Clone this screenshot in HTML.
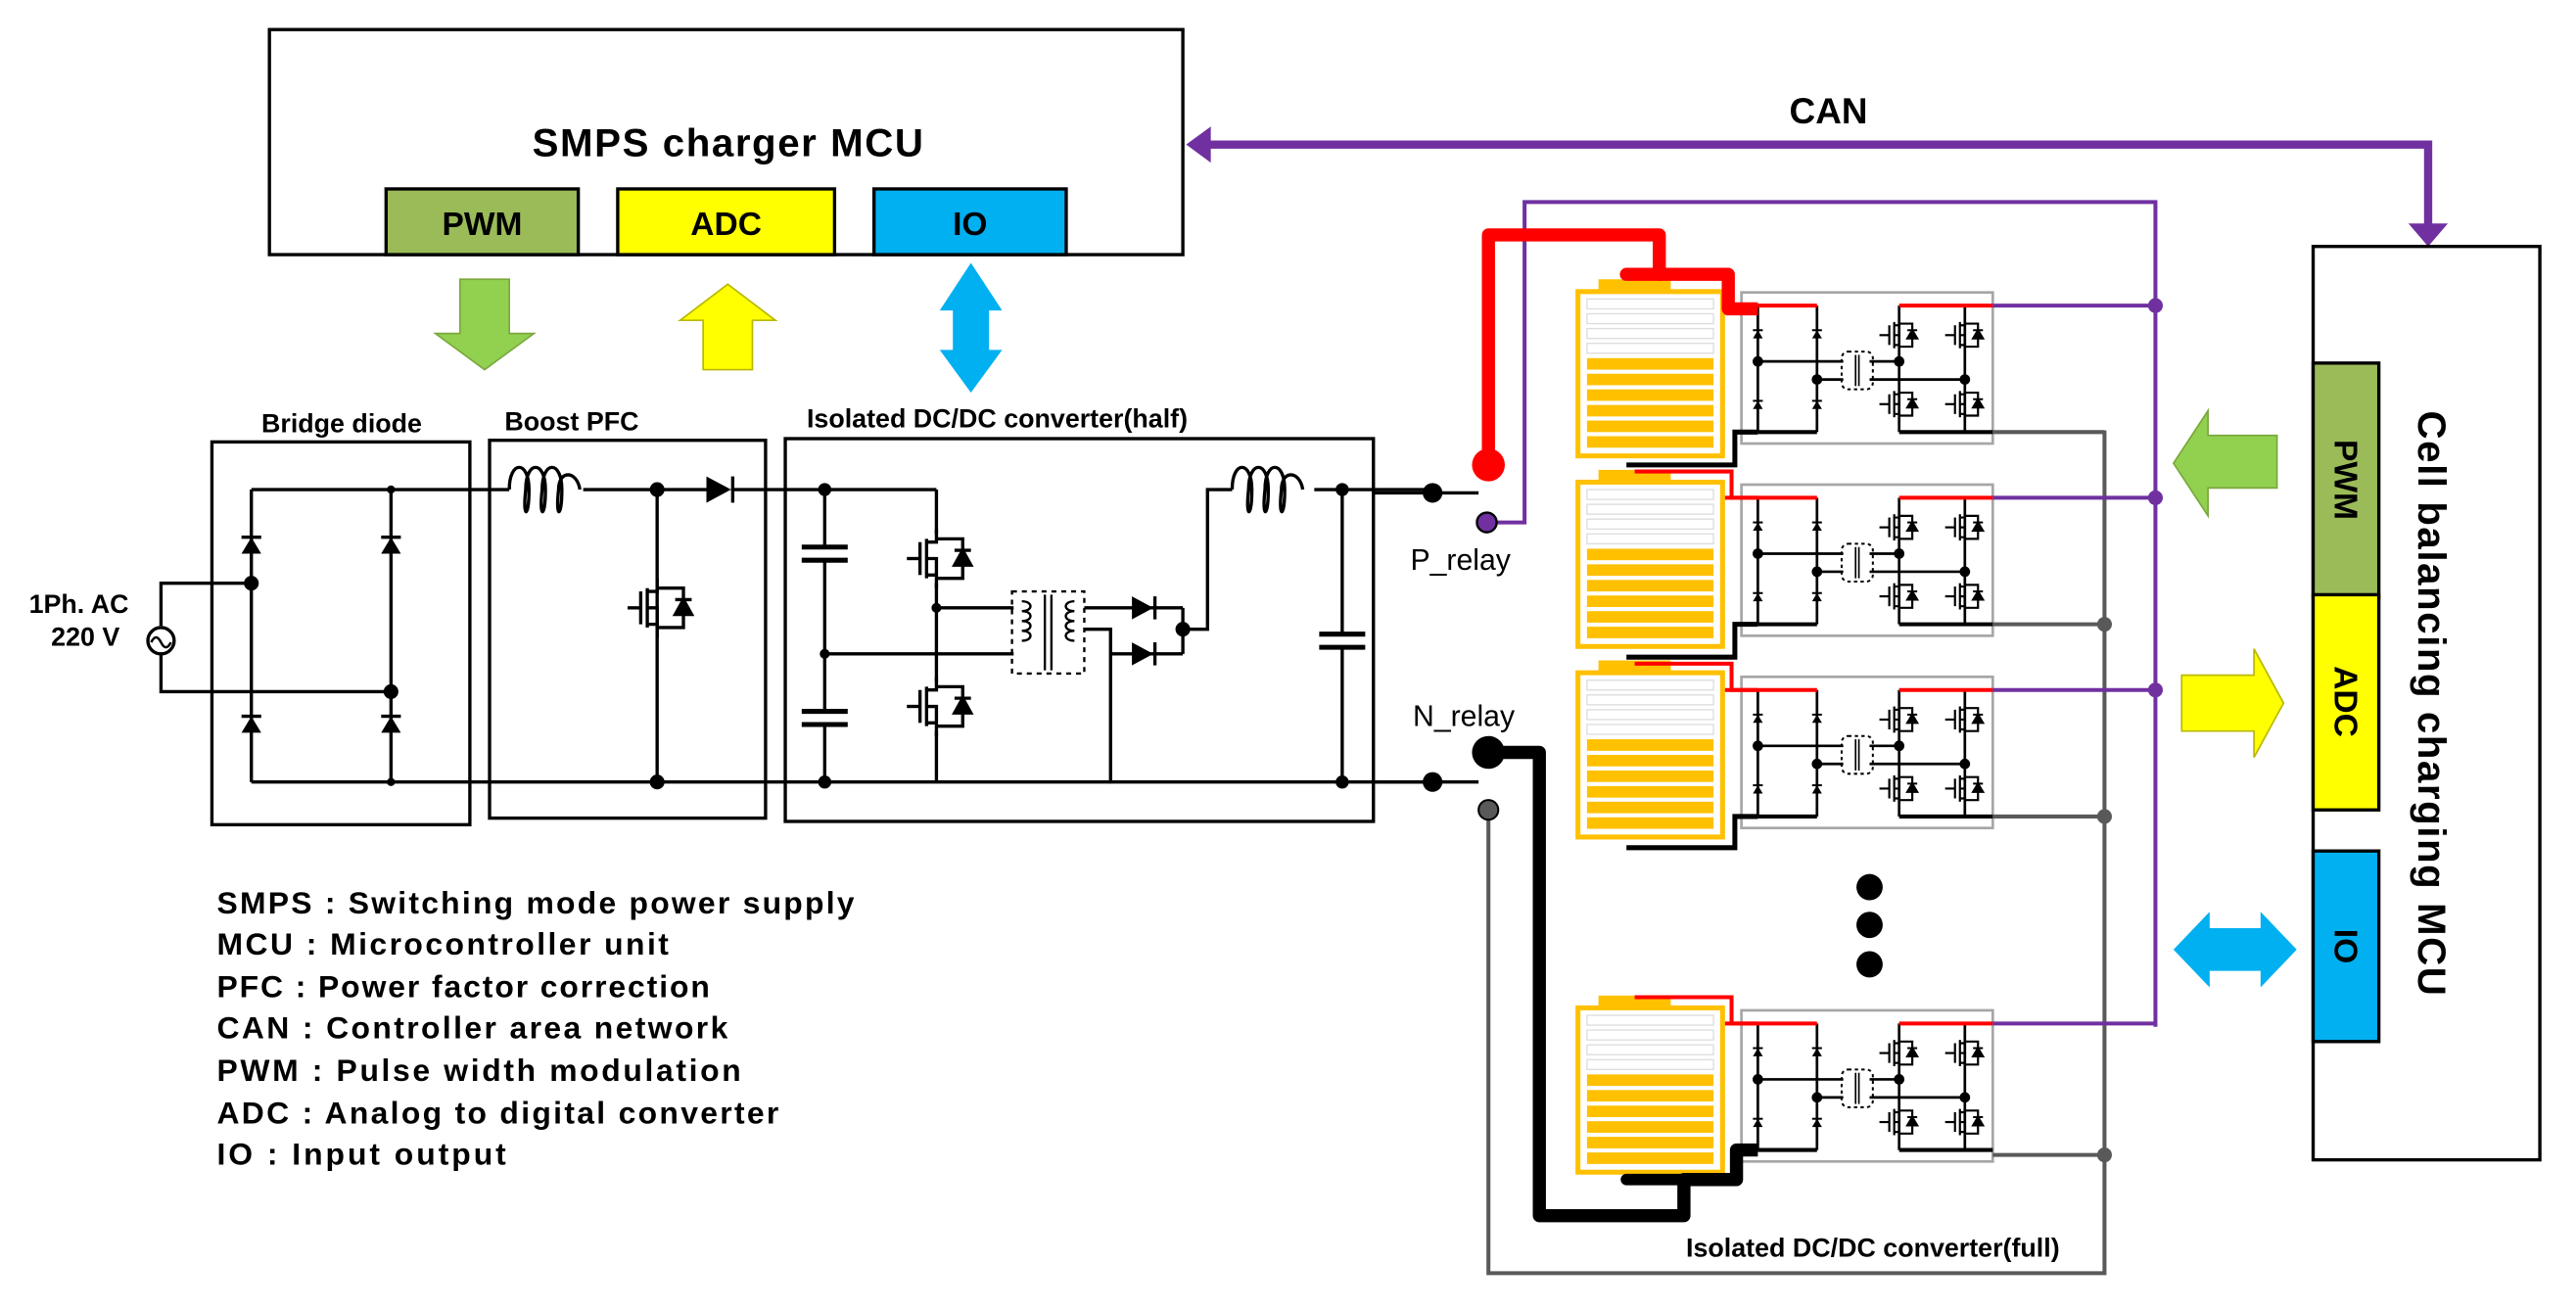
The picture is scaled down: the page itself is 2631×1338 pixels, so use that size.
<!DOCTYPE html>
<html><head><meta charset="utf-8"><style>html,body{margin:0;padding:0;background:#fff}svg{display:block}</style></head>
<body>
<svg width="2631" height="1338" viewBox="0 0 1568 797.4" preserveAspectRatio="none" xmlns="http://www.w3.org/2000/svg" font-family="Liberation Sans, sans-serif">
<defs>
<g id="dio"><path d="M-6,4 L6,4 L0,-6 Z" fill="#000"/><line x1="-6" y1="-6" x2="6" y2="-6" stroke="#000" stroke-width="2"/></g>
<g id="sdio"><path d="M-3,2 L3,2 L0,-3 Z" fill="#000"/><line x1="-3" y1="-3" x2="3" y2="-3" stroke="#000" stroke-width="1.2"/></g>
<g id="mdio"><path d="M-5,4 L5,4 L0,-5 Z" fill="#000"/><line x1="-5" y1="-5" x2="5" y2="-5" stroke="#000" stroke-width="2"/></g>
<g id="mos" fill="none" stroke="#000" stroke-width="2">
<line x1="-18" y1="0" x2="-10" y2="0"/><line x1="-10" y1="-10" x2="-10" y2="10"/>
<line x1="-6" y1="-12" x2="-6" y2="12"/><path d="M0,-18 L0,-10 L-6,-10 M-6,10 L0,10 L0,18 M-6,0 L0,0 L0,10"/>
<path d="M0,-12 L16,-12 L16,12 L0,12"/><use href="#mdio" x="16" y="0"/>
</g>
<g id="smos" fill="none" stroke="#000" stroke-width="1.3">
<line x1="-12" y1="0" x2="-6" y2="0"/><line x1="-6" y1="-6" x2="-6" y2="6"/>
<line x1="-3" y1="-8" x2="-3" y2="8"/><path d="M0,-12 L0,-6 L-3,-6 M-3,6 L0,6 L0,12 M-3,0 L0,0 L0,6 M0,-7 L8,-7 L8,7 L0,7"/>
<use href="#sdio" x="8" y="0"/>
</g>
<g id="conv">
<rect x="0" y="0" width="153" height="92" fill="none" stroke="#a6a6a6" stroke-width="1.6"/>
<g stroke="#000" stroke-width="1.6" fill="none">
<line x1="10" y1="8" x2="10" y2="85"/><line x1="46" y1="8" x2="46" y2="85"/>
<line x1="10" y1="42" x2="62" y2="42"/><line x1="46" y1="53" x2="62" y2="53"/>
<line x1="78" y1="42" x2="96" y2="42"/><line x1="78" y1="53" x2="136" y2="53"/>
<line x1="96" y1="8" x2="96" y2="85"/><line x1="136" y1="8" x2="136" y2="85"/>
</g>
<path d="M-10,8 L46,8" stroke="#f00" stroke-width="2.4"/>
<path d="M96,8 L153,8" stroke="#f00" stroke-width="2.4"/>
<path d="M10,85 L46,85 M96,85 L153,85" stroke="#000" stroke-width="2.4"/>
<use href="#sdio" x="10" y="26"/><use href="#sdio" x="46" y="26"/><use href="#sdio" x="10" y="69"/><use href="#sdio" x="46" y="69"/>
<circle cx="10" cy="42" r="3.2"/><circle cx="46" cy="53" r="3.2"/><circle cx="96" cy="42" r="3.2"/><circle cx="136" cy="53" r="3.2"/>
<rect x="61" y="36" width="19" height="23" rx="4" fill="none" stroke="#000" stroke-width="1.2" stroke-dasharray="2,2"/>
<line x1="69.5" y1="38" x2="69.5" y2="57" stroke="#000" stroke-width="1"/><line x1="71.5" y1="38" x2="71.5" y2="57" stroke="#000" stroke-width="1"/>
<use href="#smos" x="96" y="26"/><use href="#smos" x="136" y="26"/><use href="#smos" x="96" y="68"/><use href="#smos" x="136" y="68"/>
</g>
<g id="bat">
<rect x="14" y="-6" width="44" height="8" fill="#ffc000"/>
<rect x="1.5" y="1.5" width="88" height="100" fill="#fff" stroke="#ffc000" stroke-width="3"/>
<g fill="#fff" stroke="#ddd" stroke-width="0.8">
<rect x="7" y="6" width="77" height="6"/><rect x="7" y="15" width="77" height="6"/><rect x="7" y="24" width="77" height="6"/><rect x="7" y="33" width="77" height="6"/></g>
<g fill="#ffc000"><rect x="7" y="42" width="77" height="7"/><rect x="7" y="51.5" width="77" height="7"/><rect x="7" y="61" width="77" height="7"/><rect x="7" y="70.5" width="77" height="7"/><rect x="7" y="80" width="77" height="7"/><rect x="7" y="89.5" width="77" height="7"/></g>
</g>
</defs>

<rect x="164" y="18" width="556" height="137" fill="#fff" stroke="#000" stroke-width="2"/>
<text x="443" y="95" font-size="24" font-weight="bold" text-anchor="middle" textLength="238">SMPS charger MCU</text>
<rect x="235" y="115" width="117" height="40" fill="#9bbb59" stroke="#000" stroke-width="2"/>
<rect x="376" y="115" width="132" height="40" fill="#ffff00" stroke="#000" stroke-width="2"/>
<rect x="532" y="115" width="117" height="40" fill="#00b0f0" stroke="#000" stroke-width="2"/>
<text x="293.5" y="143" font-size="20" font-weight="bold" text-anchor="middle">PWM</text>
<text x="442" y="143" font-size="20" font-weight="bold" text-anchor="middle">ADC</text>
<text x="590.5" y="143" font-size="20" font-weight="bold" text-anchor="middle">IO</text>
<path d="M280,170 L310,170 L310,203 L325,203 L295,225 L265,203 L280,203 Z" fill="#92d050" stroke="#7aa83c" stroke-width="1"/>
<path d="M428,225 L458,225 L458,195 L472,195 L443,173 L414,195 L428,195 Z" fill="#ffff00" stroke="#b8b800" stroke-width="1"/>
<path d="M591,160 L610,189 L602,189 L602,213 L610,213 L591,239 L572,213 L580,213 L580,189 L572,189 Z" fill="#00b0f0"/>
<path d="M735,88 L1478,88 L1478,138" fill="none" stroke="#7030a0" stroke-width="5"/>
<path d="M722,88 L737,77 L737,99 Z" fill="#7030a0"/>
<path d="M1466,136 L1490,136 L1478,150 Z" fill="#7030a0"/>
<text x="1113" y="75" font-size="22" font-weight="bold" text-anchor="middle">CAN</text>

<text x="208" y="263" font-size="16" font-weight="bold" text-anchor="middle">Bridge diode</text>
<text x="348" y="262" font-size="16" font-weight="bold" text-anchor="middle">Boost PFC</text>
<text x="607" y="260" font-size="16" font-weight="bold" text-anchor="middle">Isolated DC/DC converter(half)</text>
<g fill="none" stroke="#000" stroke-width="2">
<rect x="129" y="269" width="157" height="233"/>
<rect x="298" y="268" width="168" height="230"/>
<rect x="478" y="267" width="358" height="233"/>
</g>
<text x="48" y="373" font-size="16" font-weight="bold" text-anchor="middle">1Ph. AC</text>
<text x="52" y="393" font-size="16" font-weight="bold" text-anchor="middle">220 V</text>
<g fill="none" stroke="#000" stroke-width="2">
<path d="M98,381 L98,355 L153,355 M98,398 L98,421 L238,421"/>
<circle cx="98" cy="390" r="8"/>
<path d="M92,391 q3,-6 6,0 q3,6 6,0" stroke-width="1.5"/>
<path d="M153,298 L153,476 M238,298 L238,476 M153,298 L310,298 M153,476 L676,476"/>
<path d="M355,298 L430,298 M400,298 L400,476 M445,298 L570,298"/>
<path d="M310,298 c0,-18 12,-18 12,0 c0,18 -4,18 -2,0 c0,-18 12,-18 12,0 c0,18 -4,18 -2,0 c0,-18 12,-18 12,0 c0,18 -4,18 -2,0 c0,-12 11,-12 13,0" stroke-width="2"/>
<path d="M502,298 L502,332 M502,342 L502,432 M502,442 L502,476"/>
<path d="M488,333 L516,333 M488,341 L516,341 M488,433 L516,433 M488,441 L516,441" stroke-width="3"/>
<path d="M570,298 L570,325 M570,355 L570,415 M570,445 L570,476"/>
<path d="M570,370 L617,370 M502,398 L617,398 M660,370 L690,370 L720,370 M660,383 L676,383 L676,476 L870,476 M676,398 L720,398 M720,370 L720,398 M720,383 L735,383 L735,298 L750,298 M800,298 L870,298 M817,298 L817,386 M817,394 L817,476"/>
<path d="M803,386 L831,386 M803,394 L831,394" stroke-width="3"/>
<path d="M750,298 c0,-18 12,-18 12,0 c0,18 -4,18 -2,0 c0,-18 12,-18 12,0 c0,18 -4,18 -2,0 c0,-18 12,-18 12,0 c0,18 -4,18 -2,0 c0,-12 11,-12 13,0"/>
<rect x="616" y="360" width="44" height="50" stroke-width="1.4" stroke-dasharray="3,3"/>
<path d="M622,366 c7,0 7,6 0,6 c7,0 7,6 0,6 c7,0 7,6 0,6 c7,0 7,6 0,6 M654,366 c-7,0 -7,6 0,6 c-7,0 -7,6 0,6 c-7,0 -7,6 0,6 c-7,0 -7,6 0,6" stroke-width="1.4"/>
<line x1="636" y1="362" x2="636" y2="408" stroke-width="1.4"/><line x1="640" y1="362" x2="640" y2="408" stroke-width="1.4"/>
</g>
<use href="#dio" transform="translate(153,333)"/><use href="#dio" transform="translate(238,333)"/>
<use href="#dio" transform="translate(153,442)"/><use href="#dio" transform="translate(238,442)"/>
<path d="M430,290 L430,306 L445,298 Z" fill="#000"/><line x1="446" y1="290" x2="446" y2="306" stroke="#000" stroke-width="2"/>
<path d="M689,363 L689,377 L702,370 Z" fill="#000"/><line x1="703" y1="363" x2="703" y2="377" stroke="#000" stroke-width="2"/>
<path d="M689,391 L689,405 L702,398 Z" fill="#000"/><line x1="703" y1="391" x2="703" y2="405" stroke="#000" stroke-width="2"/>
<use href="#mos" x="400" y="370"/>
<use href="#mos" transform="translate(570,340)"/><use href="#mos" transform="translate(570,430)"/>
<g fill="#000">
<circle cx="153" cy="355" r="4.5"/><circle cx="238" cy="421" r="4.5"/><circle cx="238" cy="298" r="2.5"/><circle cx="238" cy="476" r="2.5"/>
<circle cx="400" cy="298" r="4.5"/><circle cx="400" cy="476" r="4.5"/><circle cx="502" cy="298" r="4"/><circle cx="502" cy="476" r="4"/><circle cx="502" cy="398" r="3"/><circle cx="570" cy="370" r="3"/>
<circle cx="720" cy="383" r="4.5"/><circle cx="817" cy="298" r="4"/><circle cx="817" cy="476" r="4"/>
</g>

<g font-size="19" font-weight="bold">
<text x="132" y="556" textLength="388">SMPS : Switching mode power supply</text>
<text x="132" y="581" textLength="275">MCU : Microcontroller unit</text>
<text x="132" y="607" textLength="300">PFC : Power factor correction</text>
<text x="132" y="632" textLength="311">CAN : Controller area network</text>
<text x="132" y="658" textLength="319">PWM : Pulse width modulation</text>
<text x="132" y="684" textLength="342">ADC : Analog to digital converter</text>
<text x="132" y="709" textLength="176">IO : Input output</text>
</g>

<g stroke="#000" stroke-width="2"><line x1="836" y1="300" x2="900" y2="300"/><line x1="836" y1="476" x2="900" y2="476"/></g>
<circle cx="872" cy="300" r="6"/><circle cx="872" cy="476" r="6"/>
<text x="889" y="347" font-size="18" text-anchor="middle">P_relay</text>
<text x="891" y="442" font-size="18" text-anchor="middle">N_relay</text>

<path d="M906,493 L906,775 L1281,775 L1281,262" fill="none" stroke="#595959" stroke-width="2.4"/>
<circle cx="906" cy="493" r="6" fill="#595959" stroke="#000" stroke-width="1.2"/>
<path d="M905,318 L928,318 L928,123 L1312,123 L1312,625" fill="none" stroke="#7030a0" stroke-width="2.4"/>
<circle cx="905" cy="318" r="6" fill="#7030a0" stroke="#000" stroke-width="1.4"/>

<use href="#bat" x="959" y="176"/>
<use href="#bat" x="959" y="292"/>
<use href="#bat" x="959" y="408"/>
<use href="#bat" x="959" y="612"/>
<use href="#conv" x="1060" y="178"/>
<use href="#conv" x="1060" y="295"/>
<use href="#conv" x="1060" y="412"/>
<use href="#conv" x="1060" y="615"/>
<g stroke="#7030a0" stroke-width="2.4"><line x1="1213" y1="186" x2="1312" y2="186"/><line x1="1213" y1="303" x2="1312" y2="303"/><line x1="1213" y1="420" x2="1312" y2="420"/><line x1="1213" y1="623" x2="1312" y2="623"/></g>
<g fill="#7030a0"><circle cx="1312" cy="186" r="4.5"/><circle cx="1312" cy="303" r="4.5"/><circle cx="1312" cy="420" r="4.5"/></g>
<g stroke="#595959" stroke-width="2.4"><line x1="1213" y1="263" x2="1281" y2="263"/><line x1="1213" y1="380" x2="1281" y2="380"/><line x1="1213" y1="497" x2="1281" y2="497"/><line x1="1213" y1="703" x2="1281" y2="703"/></g>
<g fill="#595959"><circle cx="1281" cy="380" r="4.5"/><circle cx="1281" cy="497" r="4.5"/><circle cx="1281" cy="703" r="4.5"/></g>
<g fill="none" stroke-width="2.4">
<path d="M990,283 L1056,283 L1056,263 L1070,263" stroke="#000" stroke-width="3"/>
<path d="M995,287 L1054,287 L1054,303 L1070,303" stroke="#f00"/>
<path d="M990,400 L1056,400 L1056,380 L1070,380" stroke="#000" stroke-width="3"/>
<path d="M995,404 L1054,404 L1054,420 L1070,420" stroke="#f00"/>
<path d="M990,516 L1056,516 L1056,497 L1070,497" stroke="#000" stroke-width="3"/>
<path d="M995,607 L1054,607 L1054,623 L1070,623" stroke="#f00"/>
</g>
<path d="M906,282 L906,143 L1010,143 L1010,167 L1052,167 L1052,188 L1070,188" fill="none" stroke="#f00" stroke-width="8" stroke-linejoin="round"/>
<path d="M990,167 L1010,167" stroke="#f00" stroke-width="8" stroke-linecap="round"/>
<circle cx="906" cy="283" r="10" fill="#f00"/>
<path d="M906,458 L937,458 L937,740 L1025,740 L1025,718 L1057,718 L1057,700 L1070,700" fill="none" stroke="#000" stroke-width="8" stroke-linejoin="round"/>
<path d="M990,718 L1025,718" stroke="#000" stroke-width="7" stroke-linecap="round"/>
<circle cx="906" cy="458" r="10" fill="#000"/>
<circle cx="1138" cy="540" r="8"/><circle cx="1138" cy="563" r="8"/><circle cx="1138" cy="587" r="8"/>
<text x="1140" y="765" font-size="16" font-weight="bold" text-anchor="middle">Isolated DC/DC converter(full)</text>

<rect x="1408" y="150" width="138" height="556" fill="#fff" stroke="#000" stroke-width="2"/>
<rect x="1408" y="221" width="40" height="143" fill="#9bbb59" stroke="#000" stroke-width="2"/>
<rect x="1408" y="362" width="40" height="131" fill="#ffff00" stroke="#000" stroke-width="2"/>
<rect x="1408" y="518" width="40" height="116" fill="#00b0f0" stroke="#000" stroke-width="2"/>
<text transform="translate(1421,292) rotate(90)" font-size="20" font-weight="bold" text-anchor="middle">PWM</text>
<text transform="translate(1421,427) rotate(90)" font-size="20" font-weight="bold" text-anchor="middle">ADC</text>
<text transform="translate(1421,576) rotate(90)" font-size="20" font-weight="bold" text-anchor="middle">IO</text>
<text transform="translate(1472,428) rotate(90)" font-size="24" font-weight="bold" text-anchor="middle" textLength="356">Cell balancing charging MCU</text>
<path d="M1386,265 L1344,265 L1344,250 L1323,282 L1344,314 L1344,297 L1386,297 Z" fill="#92d050" stroke="#7aa83c" stroke-width="1"/>
<path d="M1328,411 L1372,411 L1372,395 L1390,428 L1372,461 L1372,445 L1328,445 Z" fill="#ffff00" stroke="#b8b800" stroke-width="1"/>
<path d="M1323,578 L1345,555 L1345,565 L1376,565 L1376,555 L1398,578 L1376,601 L1376,591 L1345,591 L1345,601 Z" fill="#00b0f0"/>
</svg>
</body></html>
